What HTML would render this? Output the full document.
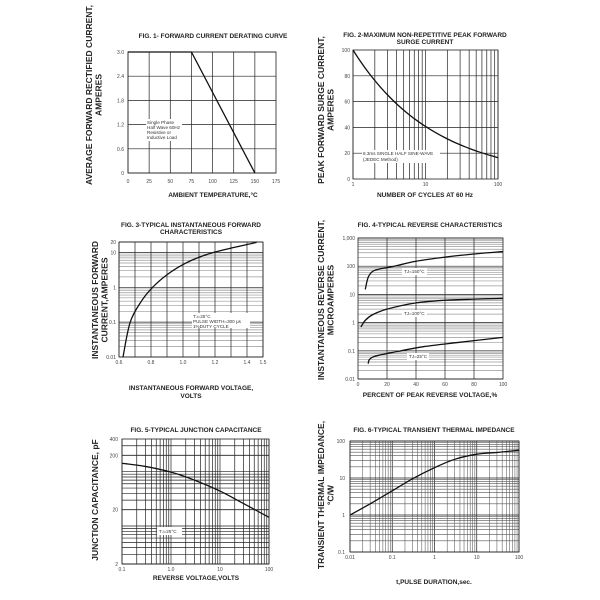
<!DOCTYPE html>
<html><head><meta charset="utf-8"><style>
html,body{margin:0;padding:0;background:#fff;width:600px;height:600px;overflow:hidden}
svg{display:block}
text{font-family:"Liberation Sans",sans-serif;fill:#222}
.t{font-size:6.5px;font-weight:bold;text-anchor:middle}
.k{font-size:5px;fill:#444}
.yl{font-size:8.5px;font-weight:bold;text-anchor:middle}
.n{font-size:4.6px;fill:#333}
</style></head><body>
<svg id="s" width="600" height="600" xmlns="http://www.w3.org/2000/svg"></svg>
<script>
const S=document.getElementById('s');let h='';
function L(x1,y1,x2,y2,c,w){h+=`<line x1="${x1}" y1="${y1}" x2="${x2}" y2="${y2}" stroke="${c}" stroke-width="${w}"/>`;}
function T(x,y,s,cls,anch,extra){h+=`<text x="${x}" y="${y}" class="${cls}" ${anch?`text-anchor="${anch}"`:''} ${extra||''}>${s}</text>`;}
function R(x,y,w,ht){h+=`<rect x="${x}" y="${y}" width="${w}" height="${ht}" fill="#fff"/>`;}
function lin(a,b,p,q){return v=>p+(v-a)*(q-p)/(b-a);}
function lg(a,b,p,q){return v=>p+(Math.log10(v)-Math.log10(a))*(q-p)/(Math.log10(b)-Math.log10(a));}
function logLines(a,b){let maj=[],min=[];for(let d=Math.pow(10,Math.floor(Math.log10(a)));d<=b;d*=10){for(let m=1;m<10;m++){let v=+(m*d).toPrecision(3);if(v<a-1e-9||v>b+1e-9)continue;(m==1?maj:min).push(v);}}return [maj,min];}
function curve(pts,fx,fy){let s=pts.map((p,i)=>(i?'L':'M')+fx(p[0]).toFixed(1)+','+fy(p[1]).toFixed(1));
 // smooth via catmull-rom
 let P=pts.map(p=>[fx(p[0]),fy(p[1])]);let d='M'+P[0][0]+','+P[0][1];
 for(let i=0;i<P.length-1;i++){let p0=P[i-1]||P[i],p1=P[i],p2=P[i+1],p3=P[i+2]||p2;
 d+=`C${p1[0]+(p2[0]-p0[0])/6},${p1[1]+(p2[1]-p0[1])/6} ${p2[0]-(p3[0]-p1[0])/6},${p2[1]-(p3[1]-p1[1])/6} ${p2[0]},${p2[1]}`;}
 h+=`<path d="${d}" fill="none" stroke="#111" stroke-width="1.3"/>`;}
function box(x0,y0,x1,y1){h+=`<rect x="${x0}" y="${y0}" width="${x1-x0}" height="${y1-y0}" fill="none" stroke="#222" stroke-width="0.8"/>`;}
function ylab(x,cy,lines){lines.forEach((s,i)=>T(x+i*9.5,cy,s,'yl','',`transform="rotate(-90 ${x+i*9.5} ${cy})"`));}

// Chart 1
{let fx=lin(0,175,128,276),fy=lin(0,3,173,52);
[0,25,50,75,100,125,150].forEach(v=>{L(fx(v),52,fx(v),173,'#222',0.7);T(fx(v),183,v,'k','middle');});
T(276,183,175,'k','middle');
[0,0.6,1.2,1.8,2.4,3.0].forEach((v,i)=>{L(128,fy(v),276,fy(v),'#222',0.7);T(124,fy(v)+2,['0','0.6','1.2','1.8','2.4','3.0'][i],'k','end');});
box(128,52,276,173);
R(146,119,36,22);['Single Phase','Half Wave 60Hz','Resistive or','Inductive Load'].forEach((s,i)=>T(147,124+i*5,s,'n'));
h+=`<path d="M${fx(0)},${fy(3)}L${fx(75)},${fy(3)}L${fx(150)},${fy(0)}" fill="none" stroke="#111" stroke-width="1.3"/>`;
T(213,38,'FIG. 1- FORWARD CURRENT DERATING CURVE','t');
T(213,197,'AMBIENT TEMPERATURE,°C','t');
ylab(92,95,['AVERAGE FORWARD RECTIFIED CURRENT,','AMPERES']);}

// Chart 2
{let fx=lg(1,100,353,498),fy=lin(0,100,179,50);let[mj,mn]=logLines(1,100);
mn.concat(mj).forEach(v=>L(fx(v),50,fx(v),179,'#222',0.7));
[20,40,60,80].forEach(v=>L(353,fy(v),498,fy(v),'#222',0.7));
[0,20,40,60,80,100].forEach(v=>T(350,fy(v)+2,v,'k','end'));
[1,10,100].forEach(v=>T(fx(v),186,v,'k','middle'));
box(353,50,498,179);
R(362,150,78,13);T(363,155,'8.3ms SINGLE HALF SINE-WAVE','n');T(363,161,'(JEDEC Method)','n');
let p=[];for(let n=1;n<=100;n*=1.25)p.push([n,100*Math.pow(n,-0.39)]);p.push([100,16.5]);curve(p,fx,fy);
T(425,37,'FIG. 2-MAXIMUM NON-REPETITIVE PEAK FORWARD','t');T(425,44,'SURGE CURRENT','t');
T(425,197,'NUMBER OF CYCLES AT 60 Hz','t');
ylab(324,110,['PEAK  FORWARD SURGE CURRENT,','AMPERES']);}

// Chart 3
{let fx=lin(0.6,1.5,119,263),fy=lg(0.01,20,357,242);let[mj,mn]=logLines(0.01,20);
mn.forEach(v=>L(119,fy(v),263,fy(v),'#999',0.7));mj.concat([20]).forEach(v=>L(119,fy(v),263,fy(v),'#222',0.7));
for(let v=0.6;v<=1.501;v+=0.1)L(fx(v),242,fx(v),357,'#222',0.7);
[[0.01,'0.01'],[0.1,'0.1'],[1,'1'],[10,'10'],[20,'20']].forEach(a=>T(116,fy(a[0])+2,a[1],'k','end'));
[0.6,0.8,1.0,1.2,1.4,1.5].forEach(v=>T(fx(v),364,v.toFixed(1),'k','middle'));
box(119,242,263,357);
R(192,313,58,15);['T<tspan font-size="3.5">J</tspan>=25°C','PULSE WIDTH=300 μs','1%DUTY CYCLE'].forEach((s,i)=>T(193,318+i*5,s,'n'));
curve([[0.625,0.01],[0.67,0.1],[0.74,0.4],[0.81,1],[0.9,2.3],[1.0,4.5],[1.1,7.3],[1.2,10.3],[1.32,14],[1.46,19.5]],fx,fy);
T(191,227,'FIG. 3-TYPICAL INSTANTANEOUS FORWARD','t');T(191,234,'CHARACTERISTICS','t');
T(191,390,'INSTANTANEOUS FORWARD VOLTAGE,','t');T(191,398,'VOLTS','t');
ylab(98,300,['INSTANTANEOUS FORWARD','CURRENT,AMPERES']);}

// Chart 4
{let fx=lin(0,100,358,503),fy=lg(0.01,1000,379,238);let[mj,mn]=logLines(0.01,1000);
mn.forEach(v=>L(358,fy(v),503,fy(v),'#999',0.7));mj.forEach(v=>L(358,fy(v),503,fy(v),'#222',0.7));
[20,40,60,80].forEach(v=>L(fx(v),238,fx(v),379,'#222',0.7));
[[0.01,'0.01'],[0.1,'0.1'],[1,'1'],[10,'10'],[100,'100'],[1000,'1,000']].forEach(a=>T(355,fy(a[0])+2,a[1],'k','end'));
[0,20,40,60,80,100].forEach(v=>T(fx(v),386,v,'k','middle'));
box(358,238,503,379);
R(402,268,25,7);T(404,273,'TJ=150°C','n');R(402,310,25,7);T(404,315,'TJ=100°C','n');R(407,353,22,7);T(409,358,'TJ=25°C','n');
curve([[5,15],[7,40],[10,65],[15,80],[25,100],[40,150],[60,210],[80,270],[100,330]],fx,fy);
curve([[2,0.7],[5,1.2],[10,1.9],[20,3],[40,5],[60,6.2],[80,6.8],[100,7.2]],fx,fy);
curve([[7,0.035],[8,0.05],[12,0.065],[25,0.09],[45,0.14],[70,0.2],[100,0.3]],fx,fy);
T(430,227,'FIG. 4-TYPICAL REVERSE CHARACTERISTICS','t');
T(430,397,'PERCENT OF PEAK REVERSE VOLTAGE,%','t');
ylab(324,300,['INSTANTANEOUS REVERSE CURRENT,','MICROAMPERES']);}

// Chart 5
{let fx=lg(0.1,100,122,269),fy=lg(2,400,564,439);let[mj,mn]=logLines(0.1,100);
mn.concat(mj).forEach(v=>L(fx(v),439,fx(v),564,'#222',0.7));
let ys=[];for(let d of [1,10,100])for(let m=1;m<10;m++){let v=2*m*d/1;}
let yv=[2,4,6,8,10,12,14,16,18,20,40,60,80,100,120,140,160,180,200,300,400];
[3,4,5,6,7,8,9,10,30,40,50,60,70,80,90,100,300].forEach(v=>L(122,fy(v),269,fy(v),'#222',0.7));
[2,20,200].forEach(v=>L(122,fy(v),269,fy(v),'#222',0.9));
[2,20,200,400].forEach(v=>T(118,fy(v)+2,v,'k','end'));
[['0.1',0.1],['1.0',1],['10',10],['100',100]].forEach(a=>T(fx(a[1]),571,a[0],'k','middle'));
box(122,439,269,564);
R(157,527,25,8);T(159,533,'T<tspan font-size="3.5">J</tspan>=25°C','n');
curve([[0.1,143],[0.3,125],[1,98],[3,70],[10,44],[30,26],[100,14.5]],fx,fy);
T(196,432,'FIG. 5-TYPICAL JUNCTION CAPACITANCE','t');
T(196,580,'REVERSE VOLTAGE,VOLTS','t');
ylab(98,500,['JUNCTION CAPACITANCE, pF']);}

// Chart 6
{let fx=lg(0.01,100,350,519),fy=lg(0.1,100,552,441);let[mj,mn]=logLines(0.01,100);
mn.forEach(v=>L(fx(v),441,fx(v),552,'#666',0.6));mj.forEach(v=>L(fx(v),441,fx(v),552,'#222',0.7));
let[yj,yn]=logLines(0.1,100);yn.forEach(v=>L(350,fy(v),519,fy(v),'#555',0.6));yj.forEach(v=>L(350,fy(v),519,fy(v),'#222',0.7));
[[0.1,'0.1'],[1,'1'],[10,'10'],[100,'100']].forEach(a=>T(345,fy(a[0])+2,a[1],'k','end'));
[['0.01',0.01],['0.1',0.1],['1',1],['10',10],['100',100]].forEach(a=>T(fx(a[1]),559,a[0],'k','middle'));
box(350,441,519,552);
curve([[0.01,1],[0.03,2],[0.1,4.5],[0.3,9.5],[1,19],[3,32],[10,44],[30,49],[100,56]],fx,fy);
T(434,432,'FIG. 6-TYPICAL TRANSIENT THERMAL IMPEDANCE','t');
T(434,584,'t,PULSE DURATION,sec.','t');
ylab(324,495,['TRANSIENT THERMAL IMPEDANCE,','°C/W']);}
S.innerHTML=h;
</script>
</body></html>
